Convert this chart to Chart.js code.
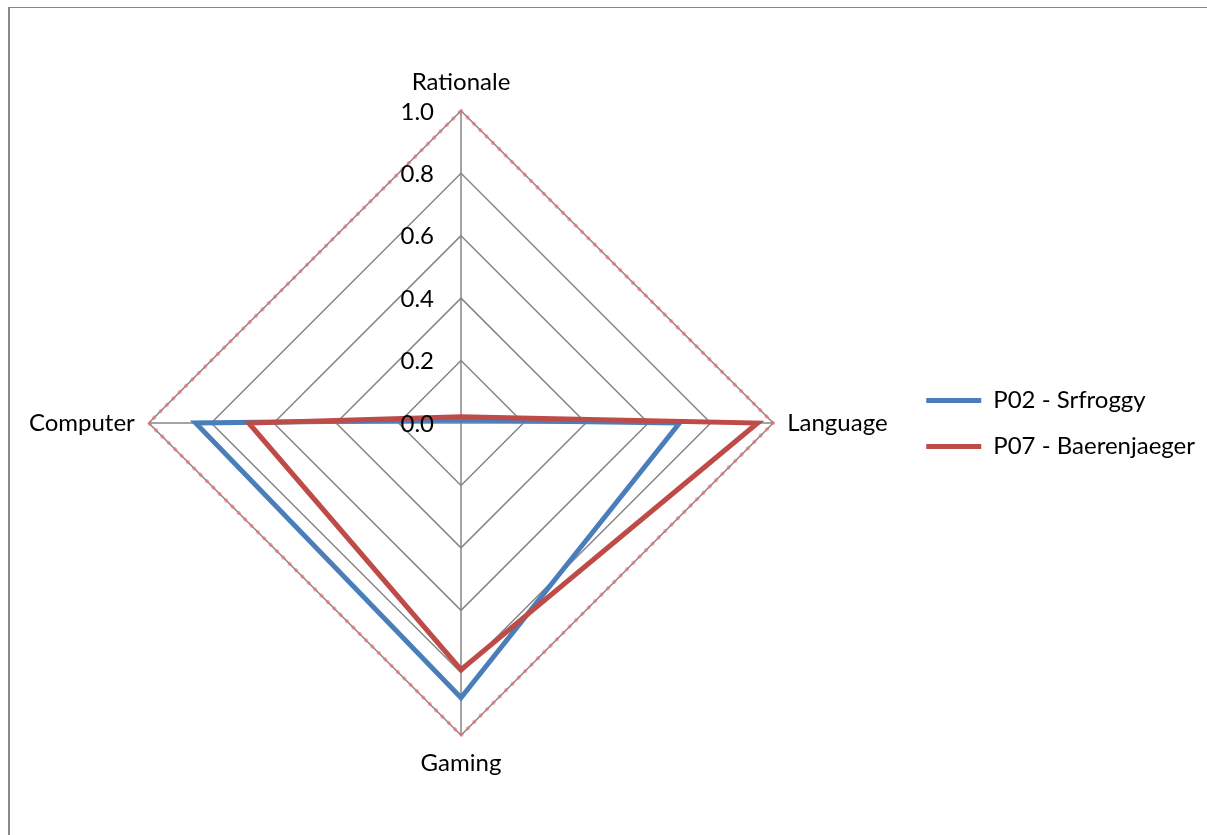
<!DOCTYPE html>
<html>
<head>
<meta charset="utf-8">
<script src="https://cdn.jsdelivr.net/npm/chart.js@4/dist/chart.umd.min.js"></script>
<style>
  html, body { margin: 0; padding: 0; background: #fff; overflow: hidden; }
  #frame { position: absolute; left: 8px; top: 7px; width: 1400px; height: 1000px;
           border-left: 2px solid #888; border-top: 1px solid #888; }
  #wrap { position: absolute; left: 0; top: 0; width: 1207px; height: 835px; }
</style>
</head>
<body>
<div id="frame"></div>
<div id="wrap"><canvas id="c" width="1207" height="835"></canvas></div>
<script>
// Axes of the radar, clockwise from the top
const categories = ['Rationale', 'Language', 'Gaming', 'Computer'];
const seriesNames = ['P02 - Srfroggy', 'P07 - Baerenjaeger'];
const srfroggy = [0.01, 0.70, 0.88, 0.85];
const baerenjaeger = [0.02, 0.95, 0.79, 0.68];
const outerRing = [1, 1, 1, 1];
const tickValues = [0, 0.2, 0.4, 0.6, 0.8, 1.0];

const FONT = 'Lato, "Open Sans", sans-serif';

// Tick labels sit to the left of the vertical axis, right aligned
const tickLabelPlugin = {
  id: 'tickLabels',
  afterDatasetsDraw(chart) {
    const r = chart.scales.r;
    const ctx = chart.ctx;
    ctx.save();
    ctx.font = '24px ' + FONT;
    ctx.fillStyle = '#000';
    ctx.textAlign = 'right';
    ctx.textBaseline = 'middle';
    tickValues.forEach(v => {
      const y = r.yCenter - r.getDistanceFromCenterForValue(v);
      ctx.fillText(v.toFixed(1), r.xCenter - 27, y + 1);
    });
    ctx.restore();
  }
};

new Chart(document.getElementById('c'), {
  type: 'radar',
  data: {
    labels: categories,
    datasets: [
      {
        label: seriesNames[0], data: srfroggy,
        borderColor: '#4A7EBB', backgroundColor: '#4A7EBB',
        borderWidth: 5, fill: false, pointRadius: 0, pointHoverRadius: 0,
        borderJoinStyle: 'miter', order: 2
      },
      {
        label: seriesNames[1], data: baerenjaeger,
        borderColor: '#BE4B48', backgroundColor: '#BE4B48',
        borderWidth: 5, fill: false, pointRadius: 0, pointHoverRadius: 0,
        borderJoinStyle: 'miter', order: 1
      },
      {
        label: 'max', data: outerRing,
        borderColor: 'rgba(240,110,110,0.6)', backgroundColor: 'transparent',
        borderWidth: 4, borderDash: [0.5, 8.5], borderCapStyle: 'round',
        fill: false, pointRadius: 0, pointHoverRadius: 0, order: 3
      }
    ]
  },
  options: {
    responsive: false,
    animation: false,
    layout: { padding: { left: 13, right: 2, top: 68, bottom: 56 } },
    plugins: {
      tooltip: { enabled: false },
      legend: {
        position: 'right',
        align: 'center',
        labels: {
          filter: item => item.datasetIndex < 2,
          sort: (a, b) => a.datasetIndex - b.datasetIndex,
          usePointStyle: true,
          pointStyle: 'line',
          pointStyleWidth: 55,
          padding: 22,
          color: '#000',
          font: { family: FONT, size: 24 }
        }
      }
    },
    scales: {
      r: {
        min: 0, max: 1,
        beginAtZero: true,
        ticks: { stepSize: 0.2, display: false },
        grid: { circular: false, color: '#868686', lineWidth: 1.5 },
        angleLines: { color: '#868686', lineWidth: 1.5 },
        pointLabels: { color: '#000', padding: 14, font: { family: FONT, size: 24 } }
      }
    }
  },
  plugins: [tickLabelPlugin]
});
</script>
</body>
</html>
